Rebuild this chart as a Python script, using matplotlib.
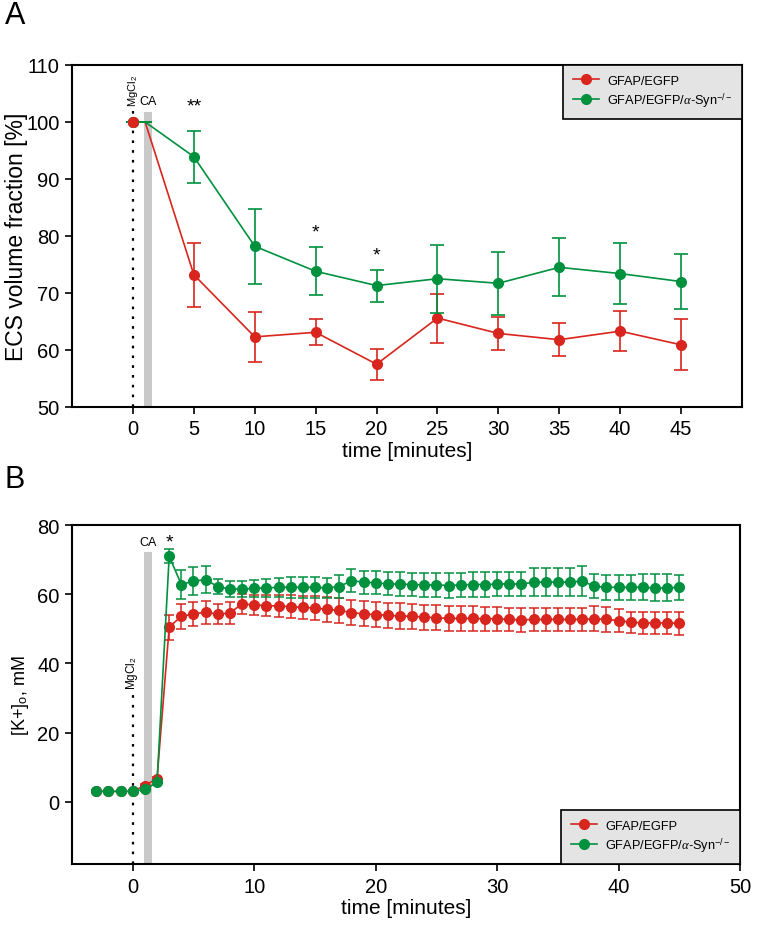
import matplotlib
matplotlib.use("Agg")
import matplotlib.pyplot as plt
from matplotlib.lines import Line2D
import numpy as np

plt.rcParams["font.family"] = ["Liberation Sans", "DejaVu Sans"]
plt.rcParams["mathtext.fontset"] = "custom"
plt.rcParams["mathtext.rm"] = "Liberation Sans"
plt.rcParams["mathtext.it"] = "Liberation Serif:italic"

RED = "#d8251d"
GREEN = "#00913f"

# ---- panel A data: ECS volume fraction
time_a = [0, 1, 5, 10, 15, 20, 25, 30, 35, 40, 45]
ecs_wt = [100, 100, 73.2, 62.3, 63.1, 57.5, 65.6, 62.9, 61.8, 63.3, 60.9]
ecs_wt_err = [0, 0, 5.6, 4.4, 2.3, 2.7, 4.3, 2.9, 2.9, 3.5, 4.5]
ecs_ko = [100, 100, 93.9, 78.2, 73.8, 71.3, 72.5, 71.7, 74.5, 73.4, 72.0]
ecs_ko_err = [0, 0, 4.6, 6.6, 4.2, 2.8, 6.0, 5.5, 5.1, 5.3, 4.75]
stars_a_x = [5, 15, 20]
stars_a_y = [101.3, 79.2, 75.2]
stars_a_txt = ["**", "*", "*"]

# ---- panel B data: extracellular K+
time_b = list(range(-3, 46))
k_wt = [3, 3, 3, 3, 4.7, 6.7,
        50.5, 53.6, 54.3, 54.8, 54.2, 54.6, 57.2, 56.9, 56.7, 56.6,
        56.4, 56.2, 56.0, 55.6, 55.3, 54.7, 54.3, 54.1, 53.9, 53.7,
        53.6, 53.4, 53.2, 53.0, 53.0, 53.0, 52.9, 52.9, 52.7, 52.6,
        52.7, 52.7, 52.7, 52.7, 52.7, 52.9, 52.7, 52.4, 51.9, 51.7,
        51.7, 51.7, 51.6]
k_wt_err = [0.3, 0.3, 0.3, 0.3, 0.5, 0.6,
            3.6, 3.7, 3.4, 3.3, 2.9, 3.1, 2.8, 3.0, 3.1, 3.2,
            3.3, 3.4, 3.4, 3.5, 3.5, 3.6, 3.6, 3.6, 3.7, 3.7,
            3.7, 3.6, 3.6, 3.7, 3.6, 3.6, 3.5, 3.5, 3.4, 3.4,
            3.3, 3.3, 3.4, 3.3, 3.4, 3.6, 3.5, 3.3, 3.1, 3.1,
            3.2, 3.2, 3.4]
k_ko = [3, 3, 3, 3, 3.6, 5.6,
        71.0, 62.8, 63.8, 64.2, 62.2, 61.5, 61.5, 61.7, 61.8, 62.0,
        62.0, 62.0, 62.0, 61.8, 62.2, 63.9, 63.5, 63.3, 63.0, 62.9,
        62.8, 62.7, 62.7, 62.5, 62.7, 62.8, 62.8, 62.9, 63.0, 62.9,
        63.5, 63.5, 63.5, 63.5, 63.8, 62.3, 62.0, 62.0, 62.0, 62.0,
        61.8, 61.8, 62.0]
k_ko_err = [0.3, 0.3, 0.3, 0.3, 0.4, 0.5,
            2.0, 4.3, 4.0, 3.9, 2.2, 2.2, 2.2, 2.5, 2.6, 2.8,
            3.0, 3.0, 3.0, 3.0, 3.3, 3.4, 3.3, 3.3, 3.3, 3.4,
            3.4, 3.4, 3.4, 3.5, 3.5, 3.5, 3.5, 3.5, 3.5, 3.5,
            4.0, 4.0, 4.0, 4.0, 4.3, 3.4, 3.6, 3.6, 3.6, 3.7,
            3.9, 3.9, 3.6]

labels = ["GFAP/EGFP", r"GFAP/EGFP/$\alpha$-Syn$^{-/-}$"]

fig = plt.figure(figsize=(7.59, 9.37), dpi=100)
ax1 = fig.add_axes([0.0949, 0.5646, 0.8827, 0.3650])
ax2 = fig.add_axes([0.0949, 0.0768, 0.8801, 0.3618])


def style_axes(ax):
    for s in ax.spines.values():
        s.set_linewidth(1.5)
        s.set_color("black")
    ax.tick_params(direction="out", length=5, width=1.2, labelsize=14.5, pad=4)


def add_legend(ax, loc):
    handles = [Line2D([], [], color=RED, lw=1.2, marker="o", markersize=7),
               Line2D([], [], color=GREEN, lw=1.2, marker="o", markersize=7)]
    leg = ax.legend(handles, labels, loc=loc, fontsize=9.2, frameon=True,
                    fancybox=False, borderaxespad=0, handlelength=2.1,
                    handletextpad=0.6, borderpad=0.75, labelspacing=0.3)
    fr = leg.get_frame()
    fr.set_facecolor("#e4e4e4")
    fr.set_edgecolor("black")
    fr.set_linewidth(1.2)
    fr.set_alpha(1)


# ---------------- panel A ----------------
ax1.fill_betweenx([50, 101.7], 0.9, 1.6, color="#c9c9c9", lw=0, zorder=1)
ax1.plot([0, 0], [50, 102.2], color="black", lw=1.6, ls=(0, (1.2, 3.2)), zorder=2)
ax1.text(1.25, 102.6, "CA", fontsize=9, ha="center", va="bottom")
ax1.text(0.0, 102.8, r"MgCl$_2$", fontsize=8, rotation=90, ha="center", va="bottom")

ax1.errorbar(time_a, ecs_ko, yerr=ecs_ko_err, color=GREEN, lw=1.2, marker="o",
             markersize=7, markevery=[0] + list(range(2, len(time_a))),
             capsize=5, capthick=1.2, elinewidth=1.2, zorder=3)
ax1.errorbar(time_a, ecs_wt, yerr=ecs_wt_err, color=RED, lw=1.2, marker="o",
             markersize=7, markevery=[0] + list(range(2, len(time_a))),
             capsize=5, capthick=1.2, elinewidth=1.2, zorder=2.5)
ax1.plot(time_a[:1], ecs_wt[:1], "o", color=RED, markersize=7, zorder=4)
for sx, sy, st in zip(stars_a_x, stars_a_y, stars_a_txt):
    ax1.text(sx, sy, st, fontsize=14, ha="center", va="bottom")

ax1.set_xlim(-5, 50)
ax1.set_ylim(50, 110)
ax1.set_xticks(np.arange(0, 50, 5))
ax1.set_yticks(np.arange(50, 111, 10))
ax1.set_xlabel("time [minutes]", fontsize=15, labelpad=2)
ax1.set_ylabel("ECS volume fraction [%]", fontsize=16.5)
ax1.yaxis.set_label_coords(-0.066, 0.5)
style_axes(ax1)
add_legend(ax1, "upper right")

# ---------------- panel B ----------------
ax2.fill_betweenx([-18, 72.3], 0.95, 1.6, color="#c9c9c9", lw=0, zorder=1)
ax2.plot([0, 0], [-18, 31], color="black", lw=1.6, ls=(0, (1.2, 3.2)), zorder=2)
ax2.text(1.25, 73.3, "CA", fontsize=9, ha="center", va="bottom")
ax2.text(-0.1, 32.5, r"MgCl$_2$", fontsize=8.5, rotation=90, ha="center", va="bottom")

ax2.errorbar(time_b, k_wt, yerr=k_wt_err, color=RED, lw=1.2, marker="o",
             markersize=7, capsize=3.5, capthick=1.1, elinewidth=1.1, zorder=3)
ax2.errorbar(time_b, k_ko, yerr=k_ko_err, color=GREEN, lw=1.2, marker="o",
             markersize=7, capsize=3.5, capthick=1.1, elinewidth=1.1, zorder=4)
ax2.text(3, 72.6, "*", fontsize=14, ha="center", va="bottom")

ax2.set_xlim(-5, 50)
ax2.set_ylim(-18, 80)
ax2.set_xticks(np.arange(0, 51, 10))
ax2.set_yticks(np.arange(0, 81, 20))
ax2.set_xlabel("time [minutes]", fontsize=15, labelpad=2)
ax2.set_ylabel(r"[K+]$_{\rm o}$, mM", fontsize=13)
ax2.yaxis.set_label_coords(-0.062, 0.5)
style_axes(ax2)
add_legend(ax2, "lower right")

fig.text(0.006, 0.967, "A", fontsize=22, ha="left", va="bottom")
fig.text(0.006, 0.472, "B", fontsize=22, ha="left", va="bottom")

fig.savefig("out.png", dpi=100)
